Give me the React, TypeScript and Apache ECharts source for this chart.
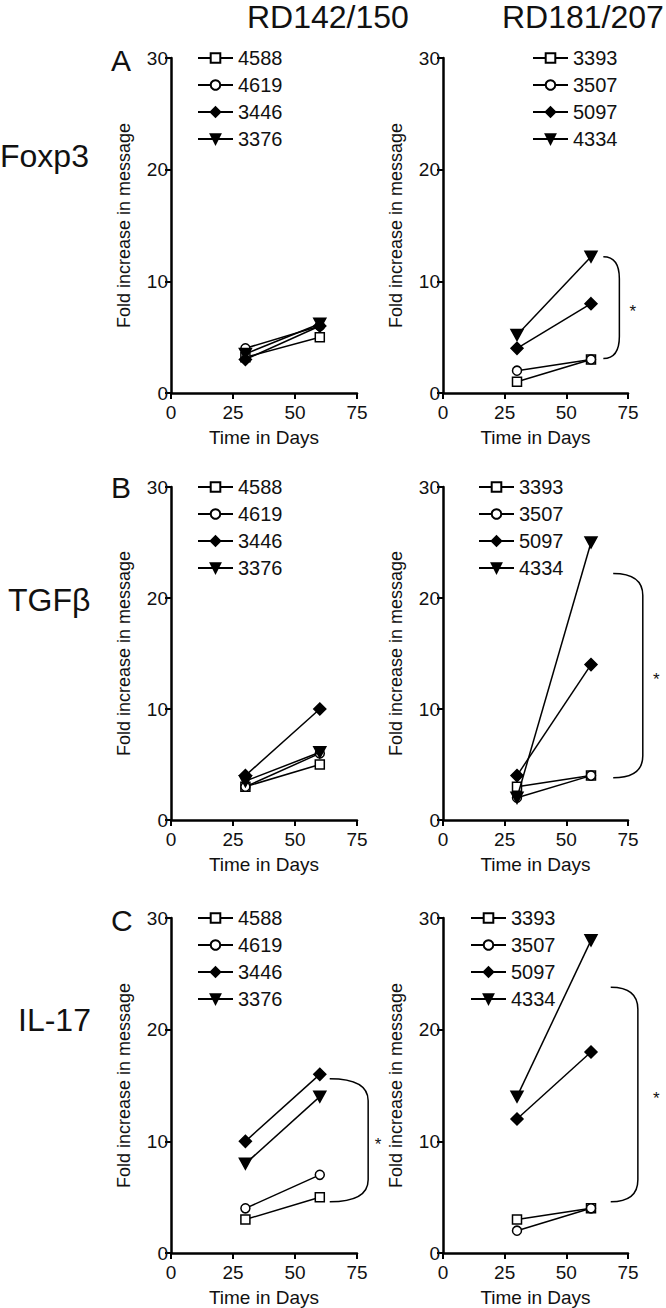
import React, { useEffect, useRef } from "react";
import * as echarts from "echarts";

// ---- data ----
const days = [30, 60];
const idsRD142 = ["4588", "4619", "3446", "3376"];
const idsRD181 = ["3393", "3507", "5097", "4334"];
const columnHeaders = ["RD142/150", "RD181/207"];
const rowLabels = ["Foxp3", "TGF\u03b2", "IL-17"];
const panelLetters = ["A", "B", "C"];
const xTickMax = 75;
const yTickMax = 30;

// values per mouse (order of ids), [day30, day60]
const foxp3RD142 = [[3.2, 5], [4, 6], [3, 6], [3.5, 6.2]];
const foxp3RD181 = [[1, 3], [2, 3], [4, 8], [5.2, 12.2]];
const tgfbRD142 = [[3, 5], [3, 6], [4, 10], [3.5, 6.1]];
const tgfbRD181 = [[3, 4], [2, 4], [4, 14], [2, 25]];
const il17RD142 = [[3, 5], [4, 7], [10, 16], [8, 14]];
const il17RD181 = [[3, 4], [2, 4], [12, 18], [14, 28]];

// significance brackets: panel index, x start, x vertical, top value, bottom value, star x
const bracketPanel = [1, 3, 4, 5];
const bracketStartX = [65, 69, 64, 68];
const bracketEdgeX = [71.5, 81, 79.5, 79];
const bracketTop = [12.2, 22.2, 15.6, 23.8];
const bracketBottom = [3.1, 3.8, 4.6, 4.6];
const bracketStarX = [77, 86.5, 83.5, 86.5];

const FONT = "'Liberation Sans', Arial, sans-serif";
const INK = "#111";

const symbols = ["rect", "circle", "diamond", "path://M0,0 L10,0 L5,9 Z"];
const symbolFilled = [false, false, true, true];
const symbolSizes = [9, 9, 12, [12, 11]];

export default function App() {
  const ref = useRef<HTMLDivElement>(null);
  useEffect(() => {
    document.body.style.margin = "0";
    if (!ref.current) return;
    const chart = echarts.init(ref.current, null, { renderer: "svg" });

    const panels = [
      foxp3RD142, foxp3RD181,
      tgfbRD142, tgfbRD181,
      il17RD142, il17RD181,
    ];
    const colLeft = [171, 443];
    const colWidth = [186, 185];
    const rowTop = [58, 487, 918];
    const rowHeight = [335, 333, 335];
    const legendLeft = [[197, 532], [197, 478], [197, 470]];
    const legendTop = [48, 477, 908];

    const grid: any[] = [];
    const xAxis: any[] = [];
    const yAxis: any[] = [];
    const series: any[] = [];
    const legend: any[] = [];

    panels.forEach((vals, p) => {
      const row = Math.floor(p / 2);
      const col = p % 2;
      const ids = col === 0 ? idsRD142 : idsRD181;
      grid.push({
        left: colLeft[col],
        top: rowTop[row],
        width: colWidth[col],
        height: rowHeight[row],
      });
      xAxis.push({
        type: "value",
        gridIndex: p,
        min: 0,
        max: xTickMax,
        interval: 25,
        name: "Time in Days",
        nameLocation: "middle",
        nameGap: 35,
        nameTextStyle: { fontFamily: FONT, fontSize: 19, color: INK },
        axisLine: { show: true, lineStyle: { color: "#000", width: 2.5 } },
        axisTick: { show: true, length: 6, lineStyle: { color: "#000", width: 2 } },
        axisLabel: { fontFamily: FONT, fontSize: 19, color: INK, margin: 10, lineHeight: 18 },
        splitLine: { show: false },
      });
      yAxis.push({
        type: "value",
        gridIndex: p,
        min: 0,
        max: yTickMax,
        interval: 10,
        name: "Fold increase in message",
        nameLocation: "middle",
        nameGap: 38,
        nameTextStyle: { fontFamily: FONT, fontSize: 18, color: INK },
        axisLine: { show: true, lineStyle: { color: "#000", width: 2.5 } },
        axisTick: { show: true, length: 6, lineStyle: { color: "#000", width: 2 } },
        axisLabel: { fontFamily: FONT, fontSize: 19, color: INK, margin: 3, lineHeight: 16 },
        splitLine: { show: false },
      });
      vals.forEach((v, i) => {
        series.push({
          type: "line",
          name: ids[i],
          xAxisIndex: p,
          yAxisIndex: p,
          data: days.map((d, k) => [d, v[k]]),
          symbol: symbols[i],
          symbolSize: symbolSizes[i],
          showAllSymbol: true,
          lineStyle: { color: "#000", width: 1.5 },
          itemStyle: {
            color: symbolFilled[i] ? "#000" : "#fff",
            borderColor: "#000",
            borderWidth: 1.5,
          },
          z: 3 + i,
          silent: true,
        });
      });
      legend.push({
        data: ids,
        orient: "vertical",
        left: legendLeft[row][col],
        top: legendTop[row],
        padding: 0,
        itemWidth: 35,
        itemHeight: 12,
        itemGap: 7,
        selectedMode: false,
        textStyle: { fontFamily: FONT, fontSize: 20, color: INK, lineHeight: 20 },
      });
    });

    bracketPanel.forEach((p, b) => {
      series.push({
        type: "custom",
        name: "bracket" + b,
        xAxisIndex: p,
        yAxisIndex: p,
        clip: false,
        silent: true,
        data: [[bracketStartX[b], bracketEdgeX[b], bracketTop[b], bracketBottom[b], bracketStarX[b]]],
        renderItem: (params: any, api: any) => {
          const t0 = api.coord([api.value(0), api.value(2)]);
          const t1 = api.coord([api.value(1), api.value(2)]);
          const b0 = api.coord([api.value(0), api.value(3)]);
          const star = api.coord([api.value(4), (api.value(2) + api.value(3)) / 2]);
          const xv = t1[0];
          const yt = t0[1];
          const yb = b0[1];
          const r = Math.min(22, (yb - yt) / 3);
          const d =
            `M${t0[0]},${yt} Q${xv},${yt} ${xv},${yt + r} L${xv},${yb - r} Q${xv},${yb} ${b0[0]},${yb}`;
          return {
            type: "group",
            children: [
              {
                type: "path",
                shape: { pathData: d },
                style: { fill: "none", stroke: "#000", lineWidth: 1.5 },
              },
              {
                type: "text",
                x: star[0],
                y: star[1] + 4,
                style: {
                  text: "*",
                  fontFamily: FONT,
                  fontSize: 17,
                  fill: INK,
                  align: "center",
                  verticalAlign: "middle",
                },
              },
            ],
          };
        },
      });
    });

    const graphic: any[] = [];
    const headerLeft = [247, 502];
    columnHeaders.forEach((h, i) => {
      graphic.push({
        type: "text",
        left: headerLeft[i],
        top: 1,
        style: { text: h, fontFamily: FONT, fontSize: 32, fill: INK },
      });
    });
    const rowLabelLeft = [0, 8, 18];
    const rowLabelTop = [140, 584, 1004];
    rowLabels.forEach((t, i) => {
      graphic.push({
        type: "text",
        left: rowLabelLeft[i],
        top: rowLabelTop[i],
        style: { text: t, fontFamily: FONT, fontSize: 32, fill: INK },
      });
    });
    const letterTop = [45, 472, 905];
    panelLetters.forEach((t, i) => {
      graphic.push({
        type: "text",
        left: 111,
        top: letterTop[i],
        style: { text: t, fontFamily: FONT, fontSize: 30, fill: INK },
      });
    });

    chart.setOption({
      animation: false,
      backgroundColor: "#fff",
      textStyle: { fontFamily: FONT },
      grid,
      xAxis,
      yAxis,
      legend,
      series,
      graphic,
    });
    return () => chart.dispose();
  }, []);
  return <div ref={ref} style={{ width: 666, height: 1308 }} />;
}
